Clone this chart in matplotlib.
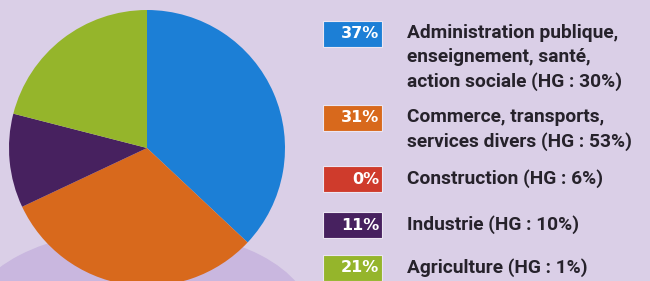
import matplotlib
matplotlib.use("Agg")
import matplotlib.pyplot as plt
from matplotlib.patches import Ellipse, Rectangle

shares = [37, 31, 0, 11, 21]
colors = ['#1c7fd6', '#d8691c', '#cf3b2c', '#47215f', '#95b52b']
labels = [
    'Administration publique,\nenseignement, santé,\naction sociale (HG : 30%)',
    'Commerce, transports,\nservices divers (HG : 53%)',
    'Construction (HG : 6%)',
    'Industrie (HG : 10%)',
    'Agriculture (HG : 1%)',
]
# vertical centre of each legend box, pixels from top
box_y = [34, 118, 179, 225, 268]

W, H = 650, 281
fig = plt.figure(figsize=(6.5, 2.81), dpi=100, facecolor='#dacfe7')
ax = fig.add_axes([0, 0, 1, 1])
ax.set_facecolor('#dacfe7')

# darker shape behind the bottom of the pie
ax.add_patch(Ellipse((140, H - 318), 340, 176, color='#c9b7df', zorder=0))

ax.pie(shares, colors=colors, startangle=90, counterclock=False,
       center=(147, H - 148), radius=138, frame=True,
       wedgeprops=dict(linewidth=0))

for v, c, lab, y in zip(shares, colors, labels, box_y):
    yc = H - y
    ax.add_patch(Rectangle((323, yc - 13), 59, 26, facecolor=c,
                           edgecolor='#ece6f2', linewidth=0.8, zorder=3))
    ax.text(379, yc, f'{v}%', ha='right', va='center', color='white',
            fontsize=11.5, fontweight='bold', family='DejaVu Sans', zorder=4)
    ax.text(407, yc + 10, lab, ha='left', va='top', color='#26222b',
            fontsize=13.8, fontweight='bold', family='Roboto',
            linespacing=1.44, zorder=4)

ax.set_xlim(0, W)
ax.set_ylim(0, H)
ax.set_aspect('equal')
ax.axis('off')

fig.savefig('out.png', dpi=100, facecolor=fig.get_facecolor())
